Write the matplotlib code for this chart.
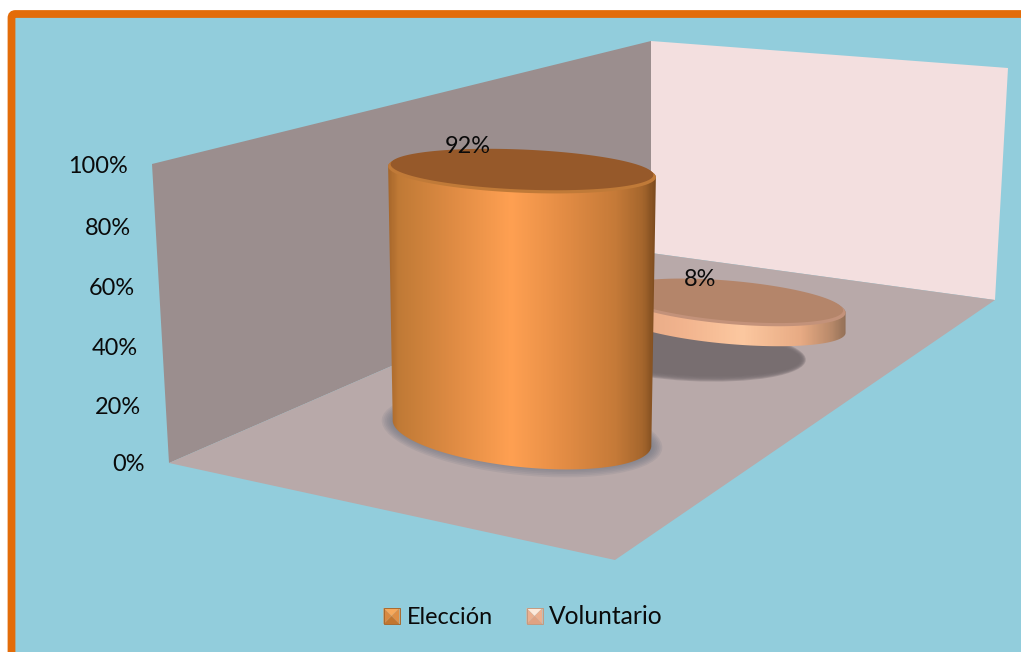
import numpy as np
import matplotlib
matplotlib.use("Agg")
import matplotlib.pyplot as plt
from matplotlib.patches import Polygon, Ellipse, FancyBboxPatch, Rectangle
from matplotlib.colors import LinearSegmentedColormap

categories = ["Elección", "Voluntario"]
values = [92, 8]
labels = ["92%", "8%"]
ticks = [0, 20, 40, 60, 80, 100]
tick_labels = ["0%", "20%", "40%", "60%", "80%", "100%"]

plt.rcParams["font.family"] = ["Lato", "DejaVu Sans"]
FS = 16.9
W, H = 1021, 652
fig = plt.figure(figsize=(W / 100, H / 100), dpi=100, facecolor="white")
ax = fig.add_axes([0, 0, 1, 1])
ax.set_xlim(0, W)
ax.set_ylim(H, 0)
ax.axis("off")

ax.add_patch(FancyBboxPatch((11.5, 14), W + 40, H + 40, boxstyle="round,pad=0,rounding_size=4",
                            fc="#92cddc", ec="#e36c09", lw=5.6, zorder=1))

# walls and floor
ax.add_patch(Polygon([(152, 164), (651, 41), (651, 253), (169, 463)], fc="#9b8e8e", ec="none", zorder=2))
ax.add_patch(Polygon([(651, 41), (1008, 68), (995, 300), (651, 253)], fc="#f3dfdf", ec="none", zorder=2))
ax.add_patch(Polygon([(169, 463), (651, 253), (995, 300), (615, 560)], fc="#b8a9a9", ec="none", zorder=2))


def ell(cx, cy, a, b, deg, t):
    r = np.deg2rad(deg)
    x, y = a * np.cos(t), b * np.sin(t)
    return np.c_[cx + x * np.cos(r) - y * np.sin(r), cy + x * np.sin(r) + y * np.cos(r)]


def soft_shadow(cx, cy, a, b, deg, color, z, spread=7, alpha=0.2):
    for s in np.linspace(spread, -spread, 8):
        ax.add_patch(Ellipse((cx, cy), 2 * (a + s), 2 * (b + s), angle=deg, fc=color,
                             alpha=alpha, ec="none", zorder=z))


def cylinder(val, base, bot, top, px_per_unit, stops, top_color, rim_color, z):
    cx, cy = base
    h = val * px_per_unit
    a_bot, b_bot, d_bot = bot
    a_top, b_top, d_top = top
    lower = ell(cx, cy, a_bot, b_bot, d_bot, np.linspace(0, np.pi, 80))
    upper = ell(cx, cy - h, a_top, b_top, d_top, np.linspace(np.pi, 2 * np.pi, 80))
    body = np.vstack([lower, upper])
    cmap = LinearSegmentedColormap.from_list("c", stops)
    x0, x1 = cx - a_top - 1, cx + a_top + 1
    im = ax.imshow(np.linspace(0, 1, 300)[None, :], cmap=cmap,
                   extent=(x0, x1, cy + b_bot + 20, cy - h - b_top - 20),
                   aspect="auto", zorder=z, interpolation="bilinear")
    clip = Polygon(body, transform=ax.transData, fc="none", ec="none")
    ax.add_patch(clip)
    im.set_clip_path(clip)
    tt = np.linspace(0, 2 * np.pi, 160)
    ax.add_patch(Polygon(ell(cx, cy - h, a_top, b_top, d_top, tt), fc=rim_color, ec="none", zorder=z + 0.1))
    ax.add_patch(Polygon(ell(cx, cy - h - 2.2, a_top - 2.5, b_top - 1, d_top, tt), fc=top_color, ec="none", zorder=z + 0.2))


col_stops = [(0, "#a5662b"), (0.04, "#c07a36"), (0.25, "#e08c44"), (0.46, "#ffa052"), (0.65, "#e48d45"),
             (0.85, "#c57a38"), (0.95, "#a5662d"), (1, "#7a4a1e")]
disc_stops = [(0, "#e0a583"), (0.3, "#f2b48e"), (0.55, "#fcc8a0"), (0.8, "#e8ab84"), (0.93, "#b98a6a"), (1, "#8f6d55")]

# Voluntario (behind)
soft_shadow(690, 354, 113, 24, 3, "#766c6f", 3, spread=3, alpha=0.32)
cylinder(values[1], (730, 323), (116, 21, 5), (116, 21, 5), 2.5, disc_stops, "#b4856a", "#c3927a", 4)
# Elección (front)
soft_shadow(522, 434, 135, 35, 6, "#6f7480", 5, spread=6, alpha=0.14)
cylinder(values[0], (522, 433), (130, 34, 6), (134, 21, 2.4), 2.84, col_stops, "#96592a", "#c07a38", 6)

# value axis
tick_right = [144.5, 141, 138, 134.5, 131, 128]
tick_base = [471, 414, 355, 295, 235, 173]
for xr, yb, s in zip(tick_right, tick_base, tick_labels):
    ax.text(xr, yb, s, ha="right", va="baseline", fontsize=FS, color="#0a0a0a", zorder=10)

ax.text(467.5, 153, labels[0], ha="center", va="baseline", fontsize=FS, color="#0a0a0a", zorder=10)
ax.text(700, 286, labels[1], ha="center", va="baseline", fontsize=FS, color="#0a0a0a", zorder=10)


def swatch(x, y, s, cols, edge, z=10):
    c = (x + s / 2, y + s / 2)
    corners = [(x, y), (x + s, y), (x + s, y + s), (x, y + s)]
    for i, col in enumerate(cols):
        ax.add_patch(Polygon([corners[i], corners[(i + 1) % 4], c], fc=col, ec="none", zorder=z))
    ax.add_patch(Rectangle((x, y), s, s, fc="none", ec=edge, lw=0.7, zorder=z + 0.1))


swatch(383.5, 608, 16, ["#f7a95c", "#e08f45", "#c2762f", "#d98a42"], "#a86a30")
swatch(526.5, 608, 16, ["#fdeadb", "#ecb08f", "#e0a282", "#ecb08f"], "#c49a80")
ax.text(407, 624.5, categories[0], ha="left", va="baseline", fontsize=FS, color="#0a0a0a", zorder=10)
ax.text(549, 624.5, categories[1], ha="left", va="baseline", fontsize=17.7, color="#0a0a0a", zorder=10)

ax.set_xlim(0, W)
ax.set_ylim(H, 0)
fig.savefig("out.png", dpi=100, facecolor="white")
